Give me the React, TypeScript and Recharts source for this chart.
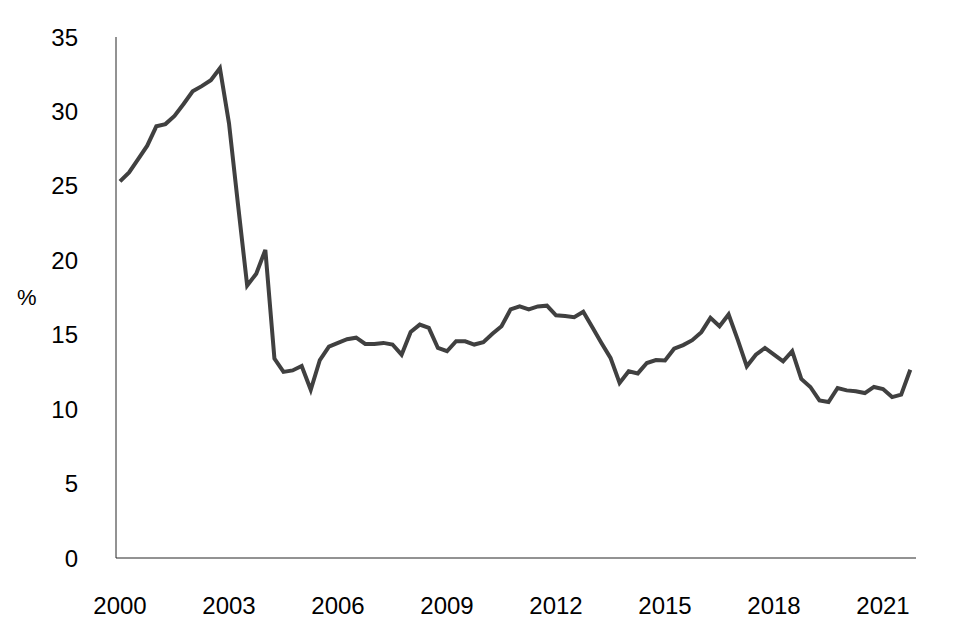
import { LineChart, Line, XAxis, YAxis } from "recharts";

// quarterly, 2000 Q1 .. 2021 Q4
const values = [
  25.3, 25.9, 26.8, 27.7, 29.0, 29.15, 29.7, 30.5, 31.35, 31.7, 32.1, 32.9,
  29.2, 23.7, 18.3, 19.1, 20.7, 13.4, 12.5, 12.6, 12.9, 11.3, 13.3, 14.2,
  14.45, 14.7, 14.8, 14.38, 14.38, 14.45, 14.34, 13.66, 15.19, 15.68, 15.46, 14.11,
  13.89, 14.56, 14.56, 14.34, 14.5, 15.06, 15.57, 16.7, 16.9, 16.7, 16.9, 16.95,
  16.3, 16.25, 16.18, 16.54, 15.5, 14.45, 13.44, 11.76, 12.54, 12.4, 13.1, 13.3,
  13.27, 14.06, 14.3, 14.63, 15.17, 16.13, 15.57, 16.36, 14.67, 12.88, 13.66, 14.11,
  13.66, 13.21, 13.89, 12.03, 11.49, 10.59, 10.48, 11.42, 11.26, 11.2, 11.08, 11.49,
  11.35, 10.81, 10.97, 12.65,
];
const startYear = 2000;
const xTicks = [0, 12, 24, 36, 48, 60, 72, 84];
const yTicks = [0, 5, 10, 15, 20, 25, 30, 35];

const data = values.map((v, i) => ({ q: i, value: v }));

const font = { fontSize: 24, fill: "#000", fontFamily: "Liberation Sans, Arial, sans-serif" };

export default function App() {
  return (
    <div style={{ position: "absolute", left: 0, top: 0, width: 960, height: 628, background: "#fff" }}>
      <LineChart width={960} height={628} data={data} margin={{ top: 37, right: 44, left: 0, bottom: 0 }}>
        <XAxis
          dataKey="q"
          type="number"
          domain={[-0.44, 87.63]}
          ticks={xTicks}
          tickFormatter={(i: number) => String(startYear + i / 4)}
          tickLine={false}
          tickSize={0}
          tickMargin={39}
          axisLine={{ stroke: "#262626", strokeWidth: 1 }}
          tick={font}
          height={70}
        />
        <YAxis
          type="number"
          domain={[0, 35]}
          ticks={yTicks}
          tickLine={false}
          tickSize={0}
          tickMargin={38}
          width={116}
          axisLine={{ stroke: "#262626", strokeWidth: 1 }}
          tick={font}
          label={{ value: "%", position: "insideLeft", offset: 17, angle: 0, style: { ...font, fontSize: 22 } }}
        />
        <Line
          dataKey="value"
          stroke="#404040"
          strokeWidth={4}
          dot={false}
          isAnimationActive={false}
        />
      </LineChart>
    </div>
  );
}
